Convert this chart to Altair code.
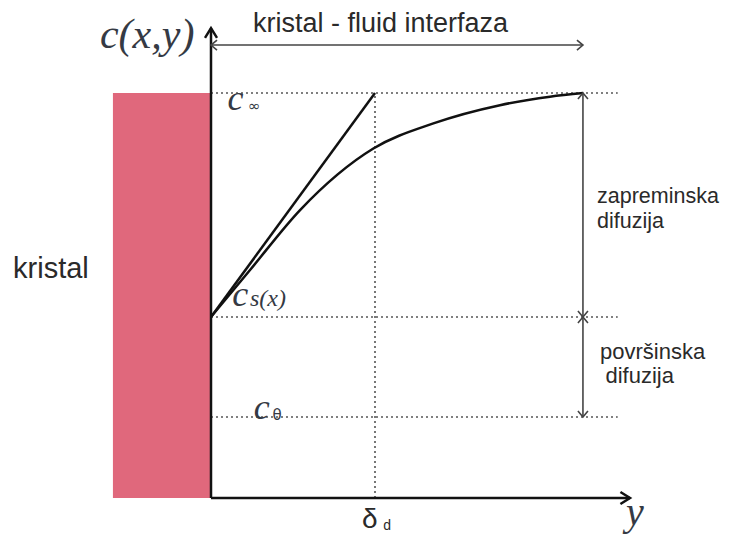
import altair as alt
import pandas as pd

# ---- data (diagram units: y in units of delta_d, c in units of c_inf) ----
curve_y = [0.0, 0.238, 0.543, 0.99, 1.356, 1.762, 2.067, 2.27]
curve_c = [0.447, 0.563, 0.711, 0.863, 0.925, 0.970, 0.991, 1.0]
tangent_y = [0.0, 1.0]
tangent_c = [0.447, 1.0]
level_names = ["c_inf", "c_s", "c_0"]
level_c = [1.0, 0.447, 0.2]
level_end = 2.48
delta_d = 1.0
crystal_x = [-0.598, 0.0]
crystal_c = [0.0, 1.0]
y_axis_top = 1.16
x_axis_end = 2.555
interface_c = 1.1185
interface_x = [0.0, 2.268]
bracket_x = 2.268

sans_text = ["kristal", "kristal - fluid interfaza", "zapreminska", "difuzija",
             "površinska", "difuzija", "δ", "d"]
sans_x = [-1.207, 0.256, 2.354, 2.354, 2.372, 2.405, 0.92, 1.05]
sans_c = [0.543, 1.151, 0.728, 0.667, 0.343, 0.284, -0.074, -0.080]
sans_size = [29, 27, 21.5, 21.5, 22, 22, 28, 14]

serif_text = ["c(x,y)", "c", "c", "c", "y", "s(x)"]
serif_x = [-0.677, 0.10, 0.13, 0.26, 2.53, 0.238]
serif_c = [1.111, 0.958, 0.474, 0.195, -0.067, 0.474]
serif_size = [42, 36, 36, 36, 40, 24]

sub_text = ["∞", "θ"]
sub_x = [0.226, 0.375]
sub_c = [0.955, 0.193]
sub_size = [15, 15]

XD = [-1.2378, 3.122]
CD = [-0.0889, 1.2099]
X = lambda f: alt.X(f, type="quantitative", scale=alt.Scale(domain=XD, nice=False, zero=False), axis=None)
Y = lambda f: alt.Y(f, type="quantitative", scale=alt.Scale(domain=CD, nice=False, zero=False), axis=None)

# crystal block
crystal = alt.Chart(pd.DataFrame({"x": [crystal_x[0]], "x2": [crystal_x[1]],
                                  "c": [crystal_c[0]], "c2": [crystal_c[1]]})).mark_rect(
    color="#E0687C"
).encode(x=X("x"), x2="x2", y=Y("c"), y2="c2")

# dotted level lines
levels = alt.Chart(pd.DataFrame({"name": level_names, "c": level_c,
                                 "x": [0.0] * 3, "x2": [level_end] * 3})).mark_rule(
    color="#555555", strokeWidth=1.6, strokeDash=[2, 3]
).encode(x=X("x"), x2="x2", y=Y("c"))

delta_line = alt.Chart(pd.DataFrame({"x": [delta_d], "c": [0.0], "c2": [1.0]})).mark_rule(
    color="#555555", strokeWidth=1.6, strokeDash=[2, 3]
).encode(x=X("x"), y=Y("c"), y2="c2")

# curve and tangent
curve = alt.Chart(pd.DataFrame({"x": curve_y, "c": curve_c})).mark_line(
    color="#111111", strokeWidth=2.5, interpolate="monotone"
).encode(x=X("x"), y=Y("c"), order="x:Q")

tangent = alt.Chart(pd.DataFrame({"x": tangent_y, "c": tangent_c})).mark_line(
    color="#111111", strokeWidth=2.5
).encode(x=X("x"), y=Y("c"))

# axes
axes = alt.Chart(pd.DataFrame({"x": [0.0, 0.0], "x2": [0.0, x_axis_end],
                               "c": [0.0, 0.0], "c2": [y_axis_top, 0.0]})).mark_rule(
    color="#111111", strokeWidth=2.5
).encode(x=X("x"), x2="x2", y=Y("c"), y2="c2")

axis_heads = alt.Chart(pd.DataFrame({"x": [0.0, x_axis_end], "c": [y_axis_top, 0.0],
                                     "ang": [270, 0]})).mark_point(
    shape="M -1.6 -1 L 0 0 L -1.6 1", filled=False, size=144, color="#111111",
    strokeWidth=2.5, opacity=1
).encode(x=X("x"), y=Y("c"), angle=alt.Angle("ang:Q", scale=None))

# thin arrows
thin = alt.Chart(pd.DataFrame({
    "x": [interface_x[0], bracket_x, bracket_x],
    "x2": [interface_x[1], bracket_x, bracket_x],
    "c": [interface_c, 1.0, level_c[1]],
    "c2": [interface_c, level_c[1], level_c[2]]})).mark_rule(
    color="#444444", strokeWidth=1.6
).encode(x=X("x"), x2="x2", y=Y("c"), y2="c2")

heads = alt.Chart(pd.DataFrame({
    "x": [interface_x[0], interface_x[1], bracket_x, bracket_x, bracket_x, bracket_x],
    "c": [interface_c, interface_c, 1.0, level_c[1], level_c[1], level_c[2]],
    "ang": [180, 0, 270, 90, 270, 90]})).mark_point(
    shape="M -1.2 -1 L 0 0 L -1.2 1", filled=False, size=100, color="#444444",
    strokeWidth=1.6, opacity=1
).encode(x=X("x"), y=Y("c"), angle=alt.Angle("ang:Q", scale=None))

# labels
sans = alt.Chart(pd.DataFrame({"x": sans_x, "c": sans_c, "t": sans_text, "s": sans_size})).mark_text(
    font="Liberation Sans", align="left", baseline="alphabetic", color="#2a2a2a"
).encode(x=X("x"), y=Y("c"), text="t:N", size=alt.Size("s:Q", scale=None))

serif = alt.Chart(pd.DataFrame({"x": serif_x, "c": serif_c, "t": serif_text, "s": serif_size})).mark_text(
    font="Liberation Serif", fontStyle="italic", align="left", baseline="alphabetic", color="#353a44"
).encode(x=X("x"), y=Y("c"), text="t:N", size=alt.Size("s:Q", scale=None))

subs = alt.Chart(pd.DataFrame({"x": sub_x, "c": sub_c, "t": sub_text, "s": sub_size})).mark_text(
    font="DejaVu Sans", align="left", baseline="alphabetic", color="#353a44"
).encode(x=X("x"), y=Y("c"), text="t:N", size=alt.Size("s:Q", scale=None))

chart = alt.layer(crystal, levels, delta_line, curve, tangent, axes, axis_heads,
                  thin, heads, sans, serif, subs).properties(
    width=715, height=526, padding=0, autosize=alt.AutoSizeParams(type="none")
).configure_view(stroke=None)

chart.save("out.html", embed_options={"renderer": "svg", "actions": False})
